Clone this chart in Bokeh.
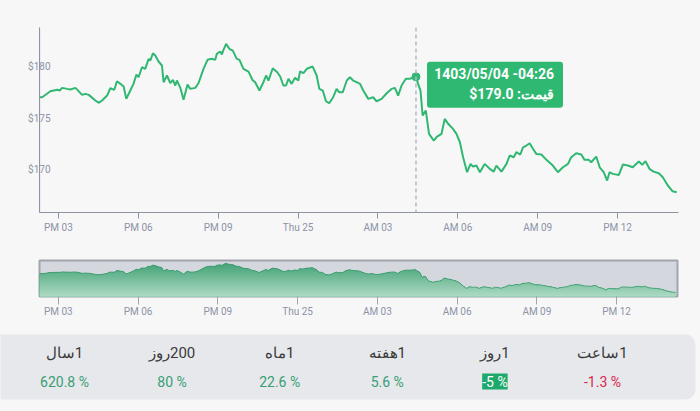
import numpy as np
from bokeh.plotting import figure
from bokeh.models import Range1d, FixedTicker, Span, BoxAnnotation, Label
from bokeh.embed import file_html
from bokeh.resources import INLINE

# ---------------- data ----------------
hours = [14.30, 14.39, 14.70, 14.95, 15.05, 15.14, 15.33, 15.45, 15.64, 15.89,
         16.01, 16.14, 16.39, 16.51, 16.64, 16.83, 16.95, 17.10, 17.20, 17.33,
         17.45, 17.55, 17.70, 17.82, 17.93, 18.01, 18.14, 18.26, 18.39, 18.45,
         18.55, 18.64, 18.76, 18.89, 18.95, 19.08, 19.20, 19.30, 19.39, 19.45,
         19.58, 19.70, 19.85, 19.95, 20.14, 20.26, 20.45, 20.60, 20.76, 20.89,
         20.95, 21.08, 21.14, 21.20, 21.30, 21.42, 21.55, 21.70, 21.80, 21.95,
         22.14, 22.30, 22.39, 22.55, 22.70, 22.80, 22.89, 23.05, 23.22, 23.33,
         23.45, 23.55, 23.64, 23.76, 23.89, 24.01, 24.08, 24.20, 24.33, 24.55,
         24.70, 24.80, 24.93, 25.05, 25.17, 25.32, 25.45, 25.55, 25.68, 25.83,
         25.95, 26.07, 26.20, 26.33, 26.45, 26.64, 26.82, 26.95, 27.14, 27.33,
         27.51, 27.64, 27.76, 27.89, 28.05, 28.20, 28.43, 28.51, 28.60, 28.68,
         28.80, 28.92, 29.10, 29.22, 29.39, 29.51, 29.64, 29.82, 29.95, 30.08,
         30.20, 30.35, 30.48, 30.57, 30.70, 30.83, 31.01, 31.20, 31.35, 31.45,
         31.64, 31.83, 31.95, 32.10, 32.20, 32.35, 32.45, 32.58, 32.70, 32.80,
         32.95, 33.14, 33.33, 33.57, 33.76, 33.95, 34.14, 34.26, 34.45, 34.64,
         34.76, 34.92, 35.01, 35.20, 35.33, 35.48, 35.61, 35.70, 35.82, 36.05,
         36.20, 36.39, 36.57, 36.80, 36.93, 37.05, 37.20, 37.35, 37.55, 37.70,
         37.89, 38.07, 38.22]
price = [177.02, 177.02, 177.60, 177.74, 177.67, 177.93, 177.83, 177.77, 177.93, 177.25,
         177.35, 177.25, 176.70, 176.48, 176.70, 177.18, 177.89, 177.74, 178.57, 178.32,
         178.06, 176.86, 177.67, 178.32, 179.22, 178.96, 179.93, 179.78, 180.75, 180.58,
         181.29, 181.07, 180.49, 180.10, 178.48, 179.13, 178.38, 178.71, 178.16, 178.64,
         177.93, 176.77, 178.25, 177.83, 177.93, 178.38, 179.78, 180.65, 180.75, 180.65,
         181.23, 181.46, 181.17, 181.62, 182.20, 181.72, 181.55, 180.75, 180.65, 179.78,
         179.51, 178.64, 178.48, 177.67, 178.48, 179.13, 178.64, 179.83, 179.45, 179.03,
         178.16, 178.16, 178.81, 178.32, 178.90, 178.64, 179.54, 179.35, 179.78, 180.00,
         179.13, 177.83, 177.67, 176.63, 176.44, 177.02, 177.83, 177.50, 177.50, 178.64,
         178.96, 178.64, 178.48, 178.32, 177.67, 176.86, 177.02, 176.63, 176.86, 177.41,
         177.83, 177.93, 177.18, 178.16, 178.81, 178.81, 179.00, 178.32, 177.67, 175.24,
         175.73, 173.47, 172.81, 173.20, 173.47, 174.92, 174.44, 173.95, 173.47, 172.65,
         171.19, 169.74, 170.55, 170.29, 170.39, 169.74, 170.55, 170.07, 169.80, 170.39,
         169.80, 170.55, 171.36, 171.19, 171.68, 171.46, 172.16, 172.33, 172.55, 172.11,
         171.52, 171.46, 170.94, 170.39, 169.74, 170.22, 170.55, 171.19, 171.58, 171.46,
         170.94, 170.94, 170.71, 171.26, 170.22, 169.74, 168.93, 169.74, 169.58, 169.48,
         170.48, 170.39, 170.22, 170.78, 170.46, 170.81, 170.07, 169.80, 169.64, 169.25,
         168.45, 167.89, 167.79]

tick_hours = [15, 18, 21, 24, 27, 30, 33, 36]
tick_labels = ["PM 03", "PM 06", "PM 09", "Thu 25", "AM 03", "AM 06", "AM 09", "PM 12"]
y_ticks = [170, 175, 180]
y_tick_labels = ["$170", "$175", "$180"]

hover_hour = 28.43
hover_price = 179.0
hover_date = "1403/05/04 -04:26"
hover_text = "$179.0 :قیمت"

stat_counts = ["1", "1", "1", "1", "200", "1"]
stat_units = ["ساعت", "روز", "هفته", "ماه", "روز", "سال"]
stat_values = [-1.3, -5, 5.6, 22.6, 80, 620.8]
selected_stat = 1

# ---------------- style ----------------
BG = "#f7f7f7"
GREEN = "#30b872"
TIP = "#2fb872"
AXIS = "#8e93a3"
TICK_TXT = "#8c93a8"
FONT = "Roboto"

X0, X1 = 14.29, 38.29
Y0, Y1 = 165.83, 183.79

# ---------------- main chart ----------------
p = figure(width=700, height=240, x_range=Range1d(X0, X1), y_range=Range1d(Y0, Y1),
           output_backend="svg", toolbar_location=None,
           min_border_left=39, min_border_right=22, min_border_top=27, min_border_bottom=28,
           background_fill_color=BG, border_fill_color=BG, outline_line_color=None)
p.grid.visible = False

p.xaxis.ticker = FixedTicker(ticks=tick_hours)
p.xaxis.major_label_overrides = {h: l for h, l in zip(tick_hours, tick_labels)}
p.xaxis.axis_line_color = AXIS
p.xaxis.major_tick_line_color = AXIS
p.xaxis.minor_tick_line_color = None
p.xaxis.major_tick_in = 0
p.xaxis.major_tick_out = 6
p.xaxis.major_label_standoff = 3
p.xaxis.major_label_text_font = FONT
p.xaxis.major_label_text_font_size = "10px"
p.xaxis.major_label_text_color = TICK_TXT

p.yaxis.ticker = FixedTicker(ticks=y_ticks)
p.yaxis.major_label_overrides = {t: l for t, l in zip(y_ticks, y_tick_labels)}
p.yaxis.axis_line_color = AXIS
p.yaxis.major_tick_line_color = None
p.yaxis.minor_tick_line_color = None
p.yaxis.major_tick_in = 0
p.yaxis.major_tick_out = 0
p.yaxis.major_label_standoff = -11
p.yaxis.major_label_text_font = FONT
p.yaxis.major_label_text_font_size = "10px"
p.yaxis.major_label_text_color = TICK_TXT
# axis line drawn again over the labels, as in the original
p.add_layout(Span(location=X0, dimension="height", line_color=AXIS, line_width=1.2))

p.line(hours, price, line_color=GREEN, line_width=2)
p.add_layout(Span(location=hover_hour, dimension="height", line_color="#b3b9cc",
                  line_width=1.5, line_dash="4 3"))
p.scatter([hover_hour], [hover_price], size=8, color=GREEN)

fw = 700 - 39 - 22
fh = 240 - 27 - 28
sx = fw / (X1 - X0)
sy = fh / (Y1 - Y0)
p.add_layout(BoxAnnotation(left=hover_hour + 11 / sx, right=hover_hour + 147 / sx,
                           top=hover_price + 15 / sy, bottom=hover_price - 31 / sy,
                           fill_color=TIP, fill_alpha=1.0, line_color=None, border_radius=3))
p.add_layout(Label(x=hover_hour, y=hover_price, x_offset=138, y_offset=3, text=hover_date,
                   text_align="right", text_baseline="middle", text_color="white",
                   text_font=FONT, text_font_style="bold", text_font_size="14px"))
p.add_layout(Label(x=hover_hour, y=hover_price, x_offset=138, y_offset=-17, text=hover_text,
                   text_align="right", text_baseline="middle", text_color="white",
                   text_font=FONT, text_font_style="bold", text_font_size="14px"))

# ---------------- navigator ----------------
NY0, NY1 = 165.7, 183.6
nav = figure(width=700, height=90, x_range=p.x_range, y_range=Range1d(NY0, NY1),
             output_backend="svg", toolbar_location=None, y_axis_type=None,
             min_border_left=39, min_border_right=23, min_border_top=20, min_border_bottom=34,
             background_fill_color="#d4d7dd", border_fill_color=BG,
             outline_line_color="#9fa4ad", outline_line_width=2)
nav.grid.visible = False

top_c = np.array([0x3c, 0x9e, 0x70])
bot_c = np.array([0xad, 0xdb, 0xc4])
pr = np.array(price)
nb = 16
levels = np.linspace(NY0, NY1, nb + 1)
for k in range(nb, 0, -1):
    t = (k - 0.5) / nb
    c = (bot_c + (top_c - bot_c) * t).astype(int)
    col = "#%02x%02x%02x" % tuple(c)
    nav.varea(x=hours, y1=NY0, y2=np.minimum(pr, levels[k]) if k < nb else pr,
              fill_color=col, fill_alpha=1.0)
nav.line(hours, price, line_color="#3a9c6e", line_width=1, line_alpha=0.8)

nav.xaxis.ticker = FixedTicker(ticks=tick_hours)
nav.xaxis.major_label_overrides = {h: l for h, l in zip(tick_hours, tick_labels)}
nav.xaxis.axis_line_color = None
nav.xaxis.major_tick_line_color = "#9fa4ad"
nav.xaxis.minor_tick_line_color = None
nav.xaxis.major_tick_in = 0
nav.xaxis.major_tick_out = 8
nav.xaxis.major_label_standoff = 1
nav.xaxis.major_label_text_font = FONT
nav.xaxis.major_label_text_font_size = "10px"
nav.xaxis.major_label_text_color = TICK_TXT

# ---------------- stats panel ----------------
st = figure(width=700, height=81, x_range=Range1d(0, 700), y_range=Range1d(81, 0),
            output_backend="svg", toolbar_location=None, x_axis_type=None, y_axis_type=None,
            min_border=0, min_border_left=0, min_border_right=0, min_border_top=0,
            min_border_bottom=0, background_fill_color=BG, border_fill_color=BG,
            outline_line_color=None)
st.grid.visible = False
st.add_layout(BoxAnnotation(left=-20, right=695, top=4, bottom=69, fill_color="#e6e8ec",
                            fill_alpha=1.0, line_color=None, border_radius=10,
                            level="underlay"))

col_w = 107.6
centers = [602 - col_w * i for i in range(len(stat_units))]
# word followed by the count, shown with the count on its right (right-to-left reading)
stat_names = [u + "\u200e" + n for u, n in zip(stat_units, stat_counts)]
val_txt = [f"{v:g} %" for v in stat_values]
val_col = []
for i, v in enumerate(stat_values):
    if i == selected_stat:
        val_col.append("white")
    elif v < 0:
        val_col.append("#d9264b")
    else:
        val_col.append("#399e74")

for cx, name in zip(centers, stat_names):
    st.add_layout(Label(x=cx, y=22, text=name, text_align="center", text_baseline="middle",
                        text_font=FONT, text_font_size="15px", text_color="#3a3a3a"))
for i, (cx, t, c) in enumerate(zip(centers, val_txt, val_col)):
    if i == selected_stat:
        st.add_layout(Label(x=cx, y=51, text=t, text_align="center", text_baseline="middle",
                            text_font=FONT, text_font_size="14px", text_color="white",
                            background_fill_color="#1da86c", background_fill_alpha=1.0))
    else:
        st.add_layout(Label(x=cx, y=51, text=t, text_align="center", text_baseline="middle",
                            text_font=FONT, text_font_size="14px", text_color=c))

html = file_html([p, nav, st], INLINE)
html = html.replace("<head>", "<head><style>html,body{margin:0;padding:0;background:#f7f7f7;}</style>", 1)
open("out.html", "w").write(html)
